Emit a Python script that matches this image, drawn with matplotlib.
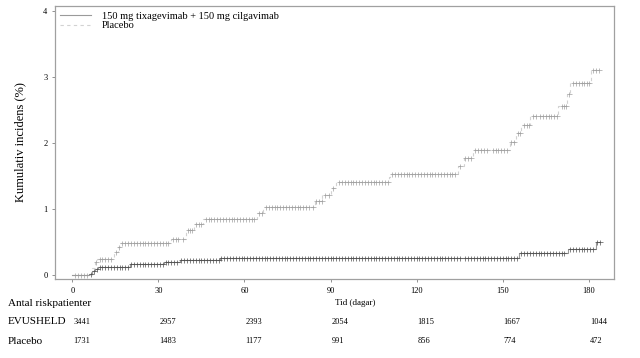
import numpy as np
import matplotlib.pyplot as plt

plt.rcParams['font.family'] = ['Liberation Serif', 'DejaVu Serif']

# step curves (day, cumulative incidence %)
evu_t = [0, 6, 7, 8, 9, 20, 32, 37.6, 51.5, 155.6, 172.7, 182.4]
evu_y = [0, 0.02, 0.06, 0.09, 0.125, 0.16, 0.19, 0.227, 0.26, 0.33, 0.40, 0.50]
evu_end = 184

plc_t = [0, 7, 7.8, 8.7, 14.5, 15.8, 16.7, 34.5, 39.7, 42.5, 45.6, 64.5, 66.5,
         84.5, 87.2, 90, 92, 110.5, 110.8, 134.4, 136.5, 139.6, 152.5, 154.5,
         156.5, 159.5, 169.3, 172.5, 173.4, 180.7]
plc_y = [0, 0.1, 0.19, 0.24, 0.35, 0.42, 0.48, 0.545, 0.68, 0.77, 0.85, 0.94, 1.03,
         1.12, 1.22, 1.32, 1.41, 1.49, 1.53, 1.65, 1.77, 1.89, 2.02, 2.15,
         2.27, 2.41, 2.56, 2.74, 2.91, 3.11]
plc_end = 183.5

# censoring marks (days)
evu_cens = [6.5, 7.5, 8.5, 9.5, 10.5, 11.5, 12.5, 13.5, 14.5, 15.5, 16.5, 17.5, 18.5, 19.5,
            20.5, 21.5, 22.5, 23.5, 24.5, 25.5, 26.5, 27.5, 28.5, 29.5, 30.5, 31.5,
            32.5, 33.5, 34.5, 35.5, 36.5, 38, 39, 40, 41, 42, 43, 44, 45, 46, 47, 48, 49, 50, 51,
            52, 53, 54, 55, 56, 57, 58, 59, 60, 61, 62, 63, 64, 65, 66, 67, 68, 69, 70,
            71, 72, 73, 74, 75, 76, 77, 78, 79, 80, 81, 82, 83, 84, 85, 86, 87, 88, 89, 90,
            91, 92, 93, 94, 95, 96, 97, 98, 99, 100, 101, 102, 103, 104, 105, 106, 107, 108,
            109, 110, 111, 112, 113, 114, 115, 116, 117, 118, 119, 120, 121, 122, 123, 124,
            125, 126, 127, 128, 129, 130, 131, 132, 133, 134, 135, 137, 138, 139, 140, 141,
            142, 143, 144, 145, 146, 147, 148, 149, 150, 151, 152, 153, 154, 155,
            156.5, 157.5, 158.5, 159.5, 160.5, 161.5, 162.5, 163.5, 164.5, 165.5, 166.5,
            167.5, 168.5, 169.5, 170.5, 171.5, 173.5, 174.5, 175.5, 176.5, 177.5, 178.5,
            179.5, 180.5, 181.5, 183, 184]
plc_cens = [1, 2, 3, 4, 5, 8.2, 9.5, 10.5, 11.5, 12.5, 13.5, 15.2, 16.2, 17.5, 18.5, 19.5,
            20.5, 21.5, 22.5, 23.5, 24.5, 25.5, 26.5, 27.5, 28.5, 29.5, 30.5, 31.5, 32.5,
            33.5, 35, 36, 37, 38.5, 40.2, 41, 41.8, 43, 44, 45, 46.5, 47.5, 48.5, 49.5, 50.5,
            51.5, 52.5, 53.5, 54.5, 55.5, 56.5, 57.5, 58.5, 59.5, 60.5, 61.5, 62.5, 63.5,
            65, 66, 67.5, 68.5, 69.5, 70.5, 71.5, 72.5, 73.5, 74.5, 75.5, 76.5, 77.5, 78.5,
            79.5, 80.5, 81.5, 82.5, 84, 85, 86, 87, 88, 89.5, 91, 93, 94, 95, 96, 97, 98, 99,
            100, 101, 102, 103, 104, 105, 106, 107, 108, 109, 110.2, 111.5, 112.5, 113.5,
            114.5, 115.5, 116.5, 117.5, 118.5, 119.5, 120.5, 121.5, 122.5, 123.5, 124.5,
            125.5, 126.5, 127.5, 128.5, 129.5, 130.5, 131.5, 132.5, 133.5, 135, 137, 138,
            139, 140.5, 141.5, 142.5, 143.5, 144.5, 146.5, 147.5, 148.5, 149.5, 150.5,
            151.5, 153, 154, 155.3, 156, 157.5, 158.5, 159, 160.5, 161.5, 163, 164, 165,
            166, 167, 168, 169, 170.5, 171.5, 172.2, 173, 174.5, 175.5, 176.5, 177.5,
            178.5, 179.5, 180.2, 181.5, 182.5, 183.5]

xticks = [0, 30, 60, 90, 120, 150, 180]
yticks = [0, 1, 2, 3, 4]
risk_evu = [3441, 2957, 2393, 2054, 1815, 1667, 1044]
risk_plc = [1731, 1483, 1177, 991, 856, 774, 472]

fig = plt.figure(figsize=(6.4, 3.58), dpi=100)
ax = fig.add_axes([0.086, 0.2207, 0.873, 0.7623])


def at(t, y, c):
  idx = np.searchsorted(t, c, side='right') - 1
  return np.asarray(y)[idx]


ax.step(plc_t + [plc_end], plc_y + [plc_y[-1]], where='post', color='#d2d2d2',
        lw=0.8, ls=(0, (3, 3)), label='Placebo', zorder=2)
ax.plot(plc_cens, at(plc_t, plc_y, plc_cens), ls='none', marker='+', ms=3.6,
        mew=0.5, color='#a0a0a0', zorder=3)
ax.step(evu_t + [evu_end], evu_y + [evu_y[-1]], where='post', color='#9a9a9a',
        lw=0.8, label='150 mg tixagevimab + 150 mg cilgavimab', zorder=4)
ax.plot(evu_cens, at(evu_t, evu_y, evu_cens), ls='none', marker='+', ms=3.6,
        mew=0.5, color='#505050', zorder=5)

ax.set_xlim(-6, 188.7)
ax.set_ylim(-0.06, 4.076)
ax.set_xticks(xticks)
ax.set_yticks(yticks)
ax.tick_params(labelsize=6, length=2.5, width=0.6, color='#808080', pad=3)
for s in ax.spines.values():
  s.set_color('#a0a0a0')
  s.set_linewidth(0.9)

ax.set_ylabel('Kumulativ incidens (%)', fontsize=9, labelpad=12)

h, l = ax.get_legend_handles_labels()
ax.legend(h[::-1], l[::-1], loc='upper left', frameon=False, fontsize=7.5,
          handlelength=3.0, handletextpad=1.0, labelspacing=0.0,
          borderaxespad=0.1, bbox_to_anchor=(0.0, 0.998))

# risk table
fig.text(8 / 640, 1 - 303 / 358, 'Antal riskpatienter', fontsize=8, va='center')
fig.text(335 / 640, 1 - 303 / 358, 'Tid (dagar)', fontsize=6.5, va='center')
fig.text(8 / 640, 1 - 322 / 358, 'EVUSHELD', fontsize=8, va='center')
fig.text(8 / 640, 1 - 341 / 358, 'Placebo', fontsize=8, va='center')
for d, ne, np_ in zip(xticks, risk_evu, risk_plc):
  x_fig = fig.transFigure.inverted().transform(ax.transData.transform((d, 0)))[0]
  fig.text(x_fig + 1 / 640, 1 - 322 / 358, str(ne), fontsize=6, va='center', ha='left')
  fig.text(x_fig + 1 / 640, 1 - 341 / 358, str(np_), fontsize=6, va='center', ha='left')

fig.savefig('out.png', dpi=100)
